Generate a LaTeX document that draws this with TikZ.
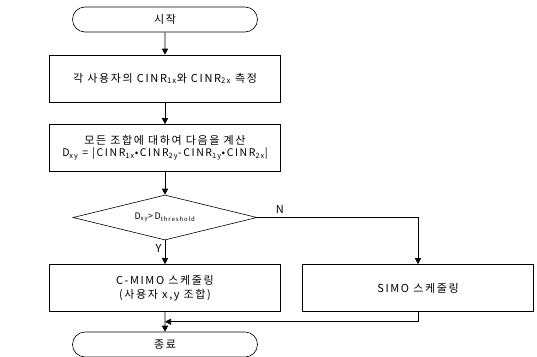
\documentclass[tikz,border=0pt]{standalone}
\usepackage{fontspec}
\setmainfont{Noto Sans CJK KR}[LetterSpace=15]
\usepackage{tikz}
\usetikzlibrary{arrows.meta}
\usetikzlibrary{shapes.geometric,shapes.misc}
\usetikzlibrary{calc}
\usetikzlibrary{positioning}

\begin{document}
\begin{tikzpicture}[>={Triangle[length=6pt,width=6pt]},line width=0.6pt,
				term/.style={draw,rounded rectangle,minimum width=185pt,minimum height=25pt,inner sep=0pt},
				proc/.style={draw,rectangle,minimum width=231pt,minimum height=47pt,inner sep=0pt,align=center},
				test/.style={draw,diamond,aspect=4,minimum width=184pt,minimum height=45pt,inner sep=0pt},
				font=\fontsize{11}{14}\selectfont]
				\useasboundingbox (0,0) rectangle (537pt,-356pt);
				\node[term] (start) at (165pt,-19.5pt) {시작};
				\node[proc] (meas) [node distance=59pt,below of=start] {각 사용자의 CINR\textsubscript{1x}와 CINR\textsubscript{2x} 측정};
				\node[proc] (calc) [node distance=69.5pt,below of=meas] {모든 조합에 대하여 다음을 계산\\[-2pt]
					{\fontsize{10.5}{12}\selectfont D\textsubscript{xy} = |CINR\textsubscript{1x}•CINR\textsubscript{2y}-CINR\textsubscript{1y}•CINR\textsubscript{2x}|}};
				\node[test] (dec) [node distance=69.5pt,below of=calc] {\fontsize{9}{10}\selectfont D\textsubscript{xy}>D\textsubscript{threshold}};
				\node[proc] (cmimo) [node distance=70.5pt,below of=dec] {C-MIMO 스케줄링\\(사용자 x,y 조합)};
				\node[proc] (simo) [node distance=253pt,right of=cmimo] {SIMO 스케줄링};
				\node[term] (end) [node distance=56.5pt,below of=cmimo] {종료};
				\coordinate (m) at ($(cmimo.south)!0.5!(end.north)$);

					\path (start) edge[->] (meas);
					\path (meas) edge[->] (calc);
					\path (calc) edge[->] (dec);
					\path (dec) edge[->] node[pos=0.35,left] {Y} (cmimo);
					\draw[->] (dec.east) -| node[pos=0.07,above] {N} (simo.north);
					\path (cmimo) edge[->] (end);
					\draw[->] (simo.south) |- (m);
			\end{tikzpicture}
\end{document}
